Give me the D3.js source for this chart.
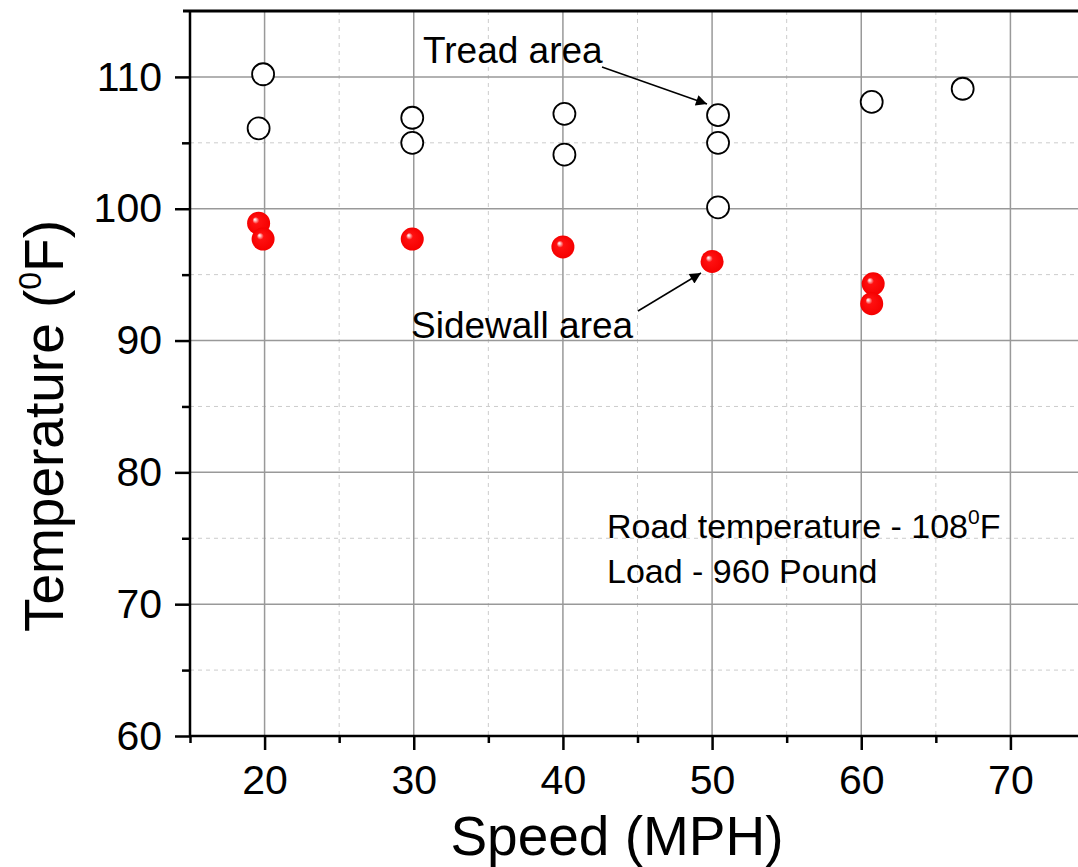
<!DOCTYPE html>
<html><head><meta charset="utf-8">
<script src="https://cdn.jsdelivr.net/npm/d3@7"></script>
<style>body{margin:0;background:#fff}text{font-family:"Liberation Sans",Arial,sans-serif}</style>
</head><body><svg id="c" width="1078" height="867"></svg>
<script>
const treadX = [19.9, 19.6, 29.9, 29.9, 40.1, 40.1, 50.4, 50.4, 50.4, 60.7, 66.8];
const treadY = [110.2, 106.1, 106.9, 105.0, 107.2, 104.1, 107.1, 105.0, 100.1, 108.1, 109.1];
const sideX = [19.6, 19.9, 29.9, 40.0, 50.0, 60.8, 60.7];
const sideY = [98.9, 97.7, 97.7, 97.1, 96.0, 94.3, 92.8];
const xTicks = [20, 30, 40, 50, 60, 70];
const yTicks = [60, 70, 80, 90, 100, 110];

const svg = d3.select("#c");
const L = 190, R = 1085, T = 11, B = 736;
const x = d3.scaleLinear().domain([15, 75]).range([L, R]);
const y = d3.scaleLinear().domain([60, 115]).range([B, T]);

const defs = svg.append("defs");
const rg = defs.append("radialGradient").attr("id","ball").attr("cx","0.5").attr("cy","0.5").attr("r","0.5").attr("fx","0.33").attr("fy","0.33");
rg.append("stop").attr("offset","0").attr("stop-color","#ffffff");
rg.append("stop").attr("offset","0.1").attr("stop-color","#ffc0c0");
rg.append("stop").attr("offset","0.3").attr("stop-color","#ff1010");
rg.append("stop").attr("offset","1").attr("stop-color","#f50000");
defs.append("marker").attr("id","arr").attr("viewBox","0 0 10 10").attr("refX","10").attr("refY","5")
  .attr("markerWidth","20").attr("markerHeight","11").attr("markerUnits","userSpaceOnUse").attr("orient","auto")
  .append("path").attr("d","M0,0 L10,5 L0,10 z").attr("fill","#000");

// minor grid
const xMinor = d3.range(25, 75, 10), yMinor = d3.range(65, 115, 10);
const g = svg.append("g");
g.selectAll(".mx").data(xMinor).enter().append("line")
  .attr("x1",d=>x(d)).attr("x2",d=>x(d)).attr("y1",T).attr("y2",B)
  .attr("stroke","#cccccc").attr("stroke-width",1).attr("stroke-dasharray","4,4");
g.selectAll(".my").data(yMinor).enter().append("line")
  .attr("y1",d=>y(d)).attr("y2",d=>y(d)).attr("x1",L).attr("x2",R)
  .attr("stroke","#cccccc").attr("stroke-width",1).attr("stroke-dasharray","4,4");
g.selectAll(".gx").data(xTicks).enter().append("line")
  .attr("x1",d=>x(d)).attr("x2",d=>x(d)).attr("y1",T).attr("y2",B)
  .attr("stroke","#999999").attr("stroke-width",1.5);
g.selectAll(".gy").data(yTicks.filter(v=>v>60)).enter().append("line")
  .attr("y1",d=>y(d)).attr("y2",d=>y(d)).attr("x1",L).attr("x2",R)
  .attr("stroke","#999999").attr("stroke-width",1.5);

// axes
const xAx = svg.append("g").attr("transform",`translate(0,${B})`)
  .call(d3.axisBottom(x).tickValues(xTicks).tickSize(14).tickPadding(15).tickSizeOuter(0));
const xMin = svg.append("g").attr("transform",`translate(0,${B})`)
  .call(d3.axisBottom(x).tickValues(d3.range(15, 75, 10)).tickSize(7).tickFormat("").tickSizeOuter(0));
const yAx = svg.append("g").attr("transform",`translate(${L},0)`)
  .call(d3.axisLeft(y).tickValues(yTicks).tickSize(15).tickPadding(13).tickSizeOuter(0));
const yMin = svg.append("g").attr("transform",`translate(${L},0)`)
  .call(d3.axisLeft(y).tickValues(d3.range(65, 115, 10)).tickSize(8).tickFormat("").tickSizeOuter(0));
[xAx,xMin,yAx,yMin].forEach(a=>{
  a.selectAll("path").remove();
  a.selectAll("line").attr("stroke","#000").attr("stroke-width",2.5);
  a.selectAll("text").attr("font-size",41).attr("fill","#000").attr("font-family","'Liberation Sans',Arial,sans-serif");
});
svg.append("line").attr("x1",L).attr("x2",R).attr("y1",B).attr("y2",B).attr("stroke","#000").attr("stroke-width",2.5);
svg.append("line").attr("x1",L).attr("x2",L).attr("y1",T).attr("y2",B).attr("stroke","#000").attr("stroke-width",2.5);
svg.append("line").attr("x1",L-7).attr("x2",R).attr("y1",T).attr("y2",T).attr("stroke","#000").attr("stroke-width",3);

// points
svg.append("g").selectAll("circle").data(treadX.map((v,i)=>[v,treadY[i]])).enter().append("circle")
  .attr("cx",d=>x(d[0])).attr("cy",d=>y(d[1])).attr("r",11)
  .attr("fill","#fff").attr("stroke","#000").attr("stroke-width",1.8);
svg.append("g").selectAll("circle").data(sideX.map((v,i)=>[v,sideY[i]])).enter().append("circle")
  .attr("cx",d=>x(d[0])).attr("cy",d=>y(d[1])).attr("r",11.5)
  .attr("fill","url(#ball)");

// axis titles
svg.append("text").attr("x",617).attr("y",855).attr("text-anchor","middle").attr("font-size",55).text("Speed (MPH)");
const yt = svg.append("text").attr("transform","translate(63,426) rotate(-90)").attr("text-anchor","middle").attr("font-size",55);
yt.append("tspan").text("Temperature (");
yt.append("tspan").attr("font-size",32).attr("dy",-22).text("0");
yt.append("tspan").attr("dy",22).text("F)");

// annotations
svg.append("text").attr("x",423).attr("y",63).attr("font-size",37).text("Tread area");
svg.append("line").attr("x1",602).attr("y1",67).attr("x2",707).attr("y2",104).attr("stroke","#000").attr("stroke-width",1.5).attr("marker-end","url(#arr)");
svg.append("text").attr("x",411).attr("y",338).attr("font-size",37).text("Sidewall area");
svg.append("line").attr("x1",638).attr("y1",311).attr("x2",701).attr("y2",273).attr("stroke","#000").attr("stroke-width",1.5).attr("marker-end","url(#arr)");
const t1 = svg.append("text").attr("x",607).attr("y",538).attr("font-size",34);
t1.append("tspan").text("Road temperature - 108");
t1.append("tspan").attr("font-size",21).attr("dy",-14).text("0");
t1.append("tspan").attr("dy",14).text("F");
svg.append("text").attr("x",607).attr("y",583).attr("font-size",34).text("Load - 960 Pound");
</script></body></html>
